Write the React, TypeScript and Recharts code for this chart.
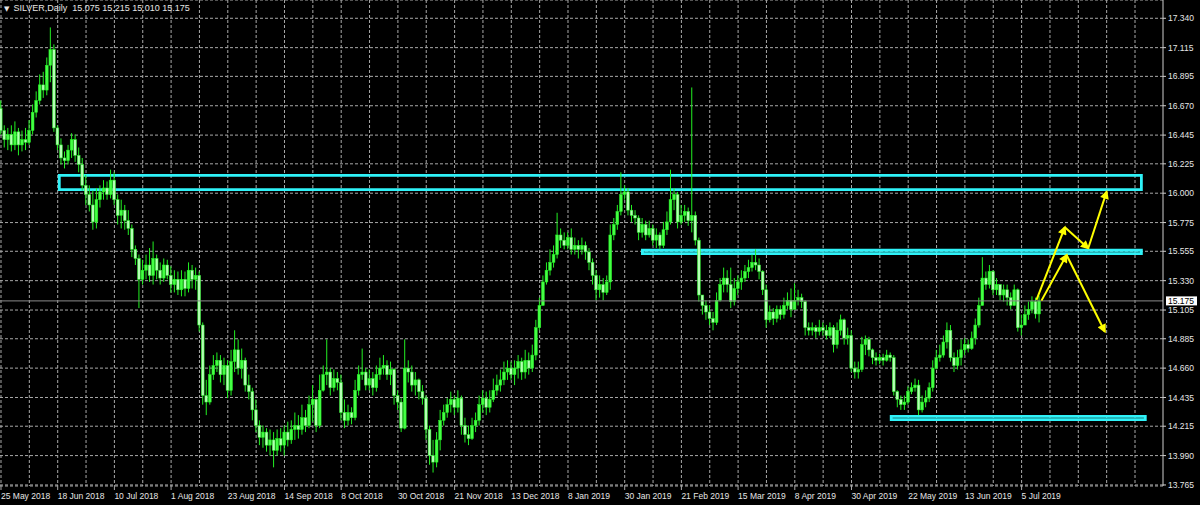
import { ComposedChart, Bar, XAxis, YAxis, CartesianGrid, ReferenceArea, ReferenceLine } from 'recharts'

// SILVER daily, bar 0 = 25 May 2018 ... last bar mid Jul 2019
const FIRST_OPEN = 16.65
const CLOSE = [
  16.48, 16.41, 16.45, 16.37, 16.47, 16.37, 16.41, 16.39, 16.48, 16.62,
  16.71, 16.83, 16.79, 16.98, 17.10, 16.50, 16.37, 16.27, 16.25, 16.33,
  16.41, 16.29, 16.22, 16.06, 15.99, 15.91, 15.78, 15.95, 16.01, 16.04,
  15.99, 16.10, 15.95, 15.83, 15.87, 15.79, 15.73, 15.57, 15.50, 15.34,
  15.41, 15.45, 15.37, 15.50, 15.41, 15.35, 15.45, 15.37, 15.30, 15.34,
  15.26, 15.34, 15.27, 15.41, 15.34, 15.37, 14.99, 14.45, 14.40, 14.61,
  14.68, 14.72, 14.61, 14.68, 14.49, 14.71, 14.80, 14.66, 14.72, 14.53,
  14.48, 14.34, 14.22, 14.13, 14.17, 14.07, 14.11, 14.03, 14.12, 14.07,
  14.17, 14.11, 14.19, 14.22, 14.19, 14.28, 14.22, 14.38, 14.42, 14.22,
  14.49, 14.61, 14.63, 14.51, 14.58, 14.55, 14.32, 14.26, 14.32, 14.28,
  14.49, 14.61, 14.63, 14.53, 14.58, 14.51, 14.61, 14.66, 14.68, 14.61,
  14.65, 14.45, 14.40, 14.20, 14.66, 14.63, 14.53, 14.57, 14.48, 14.43,
  14.19, 13.99, 13.94, 14.11, 14.26, 14.32, 14.38, 14.42, 14.36, 14.43,
  14.22, 14.15, 14.12, 14.22, 14.26, 14.38, 14.43, 14.36, 14.42, 14.49,
  14.53, 14.57, 14.63, 14.66, 14.61, 14.66, 14.71, 14.63, 14.72, 14.66,
  14.76, 14.97, 15.14, 15.32, 15.41, 15.47, 15.53, 15.68, 15.64, 15.60,
  15.66, 15.57, 15.60, 15.57, 15.60, 15.55, 15.47, 15.37, 15.26, 15.30,
  15.24, 15.32, 15.68, 15.76, 15.86, 15.99, 16.01, 15.87, 15.83, 15.81,
  15.70, 15.76, 15.68, 15.73, 15.64, 15.68, 15.60, 15.72, 15.78, 15.95,
  15.99, 15.78, 15.83, 15.86, 15.79, 15.83, 15.64, 15.22, 15.14, 15.09,
  15.04, 15.01, 15.18, 15.30, 15.35, 15.30, 15.17, 15.27, 15.32, 15.35,
  15.40, 15.43, 15.47, 15.45, 15.40, 15.26, 15.03, 15.09, 15.04, 15.11,
  15.07, 15.14, 15.18, 15.11, 15.18, 15.20, 15.17, 14.97, 14.95, 14.97,
  14.94, 14.97, 14.95, 14.91, 14.97, 14.84, 14.95, 15.03, 14.89, 14.91,
  14.66, 14.63, 14.65, 14.84, 14.88, 14.80, 14.74, 14.72, 14.74, 14.72,
  14.76, 14.74, 14.48, 14.42, 14.38, 14.40, 14.48, 14.51, 14.53, 14.34,
  14.40, 14.43, 14.51, 14.66, 14.74, 14.76, 14.86, 14.95, 14.74, 14.68,
  14.74, 14.80, 14.84, 14.81, 14.89, 14.99, 15.14, 15.35, 15.30, 15.40,
  15.26, 15.30, 15.22, 15.26, 15.20, 15.14, 15.26, 14.97, 14.99, 15.07,
  15.11, 15.17, 15.075, 15.175,
]
const HIGH = [
  16.71, 16.52, 16.50, 16.52, 16.55, 16.50, 16.48, 16.50, 16.56, 16.68,
  16.78, 16.91, 16.93, 17.04, 17.27, 17.14, 16.52, 16.42, 16.32, 16.37,
  16.46, 16.45, 16.35, 16.27, 16.14, 16.06, 16.02, 16.04, 16.06, 16.10,
  16.09, 16.18, 16.16, 15.99, 15.95, 15.91, 15.87, 15.76, 15.60, 15.53,
  15.49, 15.53, 15.58, 15.63, 15.53, 15.47, 15.50, 15.49, 15.44, 15.41,
  15.40, 15.41, 15.40, 15.47, 15.45, 15.43, 15.40, 15.01, 14.57, 14.68,
  14.76, 14.78, 14.76, 14.74, 14.72, 14.80, 14.95, 14.88, 14.81, 14.74,
  14.61, 14.51, 14.42, 14.26, 14.22, 14.20, 14.19, 14.17, 14.19, 14.20,
  14.22, 14.25, 14.26, 14.32, 14.30, 14.38, 14.34, 14.45, 14.53, 14.43,
  14.61, 14.68, 14.88, 14.66, 14.65, 14.63, 14.61, 14.42, 14.38, 14.36,
  14.57, 14.68, 14.81, 14.66, 14.65, 14.63, 14.68, 14.74, 14.76, 14.72,
  14.71, 14.66, 14.49, 14.43, 14.88, 14.72, 14.68, 14.63, 14.58, 14.53,
  14.45, 14.22, 14.11, 14.17, 14.34, 14.38, 14.43, 14.48, 14.45, 14.49,
  14.45, 14.28, 14.22, 14.28, 14.32, 14.45, 14.49, 14.48, 14.49, 14.58,
  14.61, 14.65, 14.71, 14.72, 14.71, 14.72, 14.76, 14.74, 14.80, 14.78,
  14.84, 15.03, 15.20, 15.37, 15.47, 15.57, 15.60, 15.85, 15.73, 15.70,
  15.70, 15.73, 15.66, 15.64, 15.66, 15.63, 15.58, 15.50, 15.41, 15.37,
  15.35, 15.37, 15.76, 15.81, 15.91, 16.16, 16.06, 16.04, 15.91, 15.87,
  15.83, 15.81, 15.79, 15.79, 15.76, 15.73, 15.70, 15.78, 15.86, 16.18,
  16.04, 16.01, 15.91, 15.91, 15.89, 16.81, 15.86, 15.66, 15.22, 15.18,
  15.14, 15.09, 15.24, 15.35, 15.43, 15.41, 15.43, 15.35, 15.37, 15.41,
  15.45, 15.49, 15.53, 15.57, 15.50, 15.41, 15.30, 15.14, 15.12, 15.14,
  15.14, 15.20, 15.24, 15.27, 15.31, 15.26, 15.23, 15.18, 15.01, 15.01,
  14.99, 15.03, 15.01, 14.99, 15.01, 14.99, 15.01, 15.07, 15.04, 14.97,
  14.95, 14.71, 14.71, 14.90, 14.91, 14.90, 14.81, 14.78, 14.77, 14.77,
  14.80, 14.78, 14.76, 14.49, 14.45, 14.45, 14.52, 14.55, 14.58, 14.57,
  14.45, 14.49, 14.55, 14.72, 14.80, 14.84, 14.91, 15.01, 14.99, 14.78,
  14.80, 14.88, 14.89, 14.88, 14.94, 15.04, 15.20, 15.51, 15.40, 15.45,
  15.41, 15.35, 15.30, 15.30, 15.30, 15.24, 15.30, 15.27, 15.07, 15.14,
  15.17, 15.21, 15.20, 15.215,
]
const LOW = [
  16.45, 16.35, 16.33, 16.32, 16.33, 16.29, 16.32, 16.33, 16.37, 16.45,
  16.58, 16.68, 16.73, 16.75, 16.85, 16.47, 16.33, 16.22, 16.19, 16.22,
  16.27, 16.24, 16.16, 16.02, 15.91, 15.86, 15.72, 15.73, 15.89, 15.95,
  15.95, 15.96, 15.91, 15.76, 15.73, 15.72, 15.68, 15.51, 15.45, 15.12,
  15.30, 15.34, 15.32, 15.30, 15.34, 15.30, 15.32, 15.34, 15.24, 15.24,
  15.22, 15.21, 15.21, 15.24, 15.27, 15.26, 14.94, 14.38, 14.30, 14.38,
  14.57, 14.63, 14.55, 14.53, 14.43, 14.45, 14.63, 14.61, 14.58, 14.48,
  14.42, 14.26, 14.17, 14.07, 14.05, 14.02, 13.99, 13.90, 13.99, 14.02,
  13.99, 14.06, 14.08, 14.11, 14.12, 14.15, 14.17, 14.20, 14.25, 14.17,
  14.20, 14.48, 14.53, 14.45, 14.48, 14.49, 14.26, 14.20, 14.22, 14.23,
  14.26, 14.45, 14.57, 14.49, 14.49, 14.45, 14.48, 14.57, 14.61, 14.57,
  14.53, 14.38, 14.34, 14.17, 14.19, 14.55, 14.48, 14.45, 14.42, 14.38,
  14.11, 13.92, 13.86, 13.90, 14.03, 14.22, 14.28, 14.32, 14.30, 14.32,
  14.15, 14.09, 14.07, 14.11, 14.17, 14.22, 14.32, 14.30, 14.32, 14.40,
  14.45, 14.48, 14.53, 14.57, 14.57, 14.53, 14.58, 14.57, 14.58, 14.61,
  14.63, 14.72, 14.95, 15.14, 15.30, 15.37, 15.43, 15.50, 15.58, 15.57,
  15.57, 15.53, 15.53, 15.50, 15.53, 15.49, 15.41, 15.30, 15.18, 15.20,
  15.18, 15.22, 15.26, 15.64, 15.72, 15.83, 15.95, 15.83, 15.78, 15.76,
  15.64, 15.66, 15.64, 15.66, 15.60, 15.58, 15.57, 15.58, 15.68, 15.76,
  15.87, 15.73, 15.76, 15.78, 15.75, 15.70, 15.60, 15.17, 15.07, 15.03,
  14.99, 14.95, 14.99, 15.17, 15.24, 15.24, 15.12, 15.14, 15.22, 15.26,
  15.32, 15.35, 15.40, 15.41, 15.34, 15.22, 14.97, 15.01, 14.99, 15.01,
  15.03, 15.04, 15.11, 15.05, 15.14, 15.14, 15.12, 14.91, 14.91, 14.91,
  14.89, 14.91, 14.91, 14.88, 14.89, 14.78, 14.81, 14.91, 14.84, 14.84,
  14.63, 14.58, 14.58, 14.63, 14.76, 14.75, 14.69, 14.68, 14.69, 14.68,
  14.71, 14.71, 14.45, 14.36, 14.34, 14.34, 14.38, 14.46, 14.48, 14.30,
  14.32, 14.36, 14.40, 14.48, 14.65, 14.71, 14.74, 14.81, 14.71, 14.63,
  14.65, 14.68, 14.76, 14.78, 14.80, 14.84, 14.97, 15.14, 15.26, 15.27,
  15.22, 15.22, 15.18, 15.17, 15.14, 15.11, 15.18, 14.94, 14.91, 15.01,
  15.03, 15.08, 15.04, 15.01,
]

const DATE_TICKS = [0, 16, 32, 48, 64, 80, 96, 112, 128, 144, 160, 176, 192, 208, 224, 240, 256, 272, 288]
const DATE_LABELS = [
  '25 May 2018', '18 Jun 2018', '10 Jul 2018', '1 Aug 2018', '23 Aug 2018', '14 Sep 2018',
  '8 Oct 2018', '30 Oct 2018', '21 Nov 2018', '13 Dec 2018', '8 Jan 2019', '30 Jan 2019',
  '21 Feb 2019', '15 Mar 2019', '8 Apr 2019', '30 Apr 2019', '22 May 2019', '13 Jun 2019', '5 Jul 2019',
]
const GRID_X = [0, 8, 16, 24, 32, 40, 48, 56, 64, 72, 80, 88, 96, 104, 112, 120, 128, 136, 144, 152, 160,
  168, 176, 184, 192, 200, 208, 216, 224, 232, 240, 248, 256, 264, 272, 280, 288, 296, 304, 312, 320]
const PRICE_TICKS = [13.765, 13.99, 14.215, 14.435, 14.66, 14.885, 15.105, 15.33, 15.555, 15.775,
  16.0, 16.225, 16.445, 16.67, 16.895, 17.115, 17.34]

// drawn objects: support / resistance boxes (bar index, price)
const ZONE_X1 = [16.45, 181.0, 251.2]
const ZONE_X2 = [321.8, 321.8, 322.9]
const ZONE_TOP = [16.137, 15.563, 14.291]
const ZONE_BOT = [16.027, 15.537, 14.265]
// yellow arrows, each segment [x1, y1, x2, y2]
const ARROWS = [
  [292.2, 15.182, 300.2, 15.739],
  [300.2, 15.739, 306.8, 15.578],
  [306.8, 15.578, 312.0, 16.012],
  [293.6, 15.177, 300.7, 15.527],
  [300.7, 15.527, 311.5, 14.939],
]

const rows = CLOSE.map((c, i) => {
  const o = i === 0 ? FIRST_OPEN : CLOSE[i - 1]
  const h = Math.max(HIGH[i], o, c)
  const l = Math.min(LOW[i], o, c)
  return { i, o, c, h, l, hl: [l, h] }
})
const last = rows[rows.length - 1]

const FONT = '"Liberation Sans", Arial, "DejaVu Sans", sans-serif'
const TXT = '#e6e6e6'
const GRID = '#a8a8a8'
const WICK = '#22f022'

const Candle = (props: any) => {
  const { x, y, width, height, payload } = props
  if (!payload) return null
  const { o, c, h, l } = payload
  const top0 = Math.min(y, y + height)
  const hgt = Math.abs(height)
  const mid = x + width / 2
  const py = (v: number) => top0 + ((h - v) / (h - l || 1)) * hgt
  const bt = py(Math.max(o, c))
  const bb = py(Math.min(o, c))
  const up = c >= o
  return (
    <g>
      <line x1={mid} x2={mid} y1={top0} y2={top0 + hgt} stroke={WICK} strokeWidth={1} />
      <rect x={mid - 1.4} y={bt} width={2.8} height={Math.max(bb - bt, 1)}
        fill={up ? '#45ff45' : '#b4ffb4'} stroke={WICK} strokeWidth={0.5} />
    </g>
  )
}

const DateTick = ({ x, y, payload }: any) => (
  <text x={x} y={y} dy={7} textAnchor="start" fill={TXT} fontSize={8.5} fontFamily={FONT}>
    {DATE_LABELS[DATE_TICKS.indexOf(payload.value)]}
  </text>
)

const PriceBox = ({ viewBox }: any) => {
  if (!viewBox) return null
  const x0 = viewBox.x + viewBox.width + 3
  return (
    <g>
      <rect x={x0} y={viewBox.y - 4.5} width={31} height={9} fill="#ffffff" />
      <text x={x0 + 2} y={viewBox.y + 3.2} fill="#000" fontSize={8.5} fontFamily={FONT}>{last.c.toFixed(3)}</text>
    </g>
  )
}

const Arrow = (p: any) => (
  <line x1={p.x1} y1={p.y1} x2={p.x2} y2={p.y2} stroke="#ffff00" strokeWidth={2} markerEnd="url(#ah)" />
)

export default function App() {
  return (
    <div style={{ position: 'relative', width: 1200, height: 505, background: '#000' }}>
      <style>{'body{margin:0;background:#000}'}</style>
      <ComposedChart width={1200} height={505} data={rows} margin={{ top: 0, right: 0, bottom: 0, left: 0 }}>
        <defs>
          <marker id="ah" viewBox="0 0 10 10" refX="8" refY="5" markerWidth="5.5" markerHeight="4.5"
            orient="auto" markerUnits="strokeWidth">
            <path d="M0,0 L10,5 L0,10 z" fill="#ffff00" />
          </marker>
        </defs>
        <CartesianGrid stroke={GRID} strokeDasharray="3 2" verticalValues={GRID_X} />
        <XAxis dataKey="i" type="number" domain={[-0.28, 327.9]} allowDataOverflow ticks={DATE_TICKS}
          interval={0} height={19} tickSize={4} tickLine={{ stroke: GRID }} axisLine={false} tick={<DateTick />} />
        <YAxis orientation="right" type="number" domain={[13.757, 17.48]} allowDataOverflow ticks={PRICE_TICKS}
          interval={0} width={37} tickSize={3} tickMargin={2} tickLine={{ stroke: '#cfcfcf' }}
          axisLine={{ stroke: '#cfcfcf' }} tickFormatter={(v: number) => v.toFixed(3)}
          tick={{ fill: TXT, fontSize: 8.5, fontFamily: FONT }} />
        <ReferenceLine y={last.c} stroke="#8a8a8a" strokeWidth={1} label={<PriceBox />} />
        <Bar dataKey="hl" barSize={3} shape={<Candle />} isAnimationActive={false} />
        {ZONE_X1.map((x1, k) => (
          <ReferenceArea key={k} x1={x1} x2={ZONE_X2[k]} y1={ZONE_BOT[k]} y2={ZONE_TOP[k]}
            fill="none" fillOpacity={0} stroke="#2ff2f8" strokeWidth={2.8} />
        ))}
        {ARROWS.map((s, k) => (
          <ReferenceLine key={'a' + k} segment={[{ x: s[0], y: s[1] }, { x: s[2], y: s[3] }]}
            shape={<Arrow />} stroke="#ffff00" strokeWidth={2} />
        ))}
      </ComposedChart>
      <div style={{ position: 'absolute', left: 4, top: 2, color: TXT, fontFamily: FONT, fontSize: 9,
        whiteSpace: 'pre', lineHeight: '12px' }}>
        <span style={{ fontFamily: '"DejaVu Sans", sans-serif', fontSize: 7, marginRight: 4 }}>▼</span>
        {`SILVER,Daily  ${last.o.toFixed(3)} ${last.h.toFixed(3)} ${last.l.toFixed(3)} ${last.c.toFixed(3)}`}
      </div>
    </div>
  )
}
